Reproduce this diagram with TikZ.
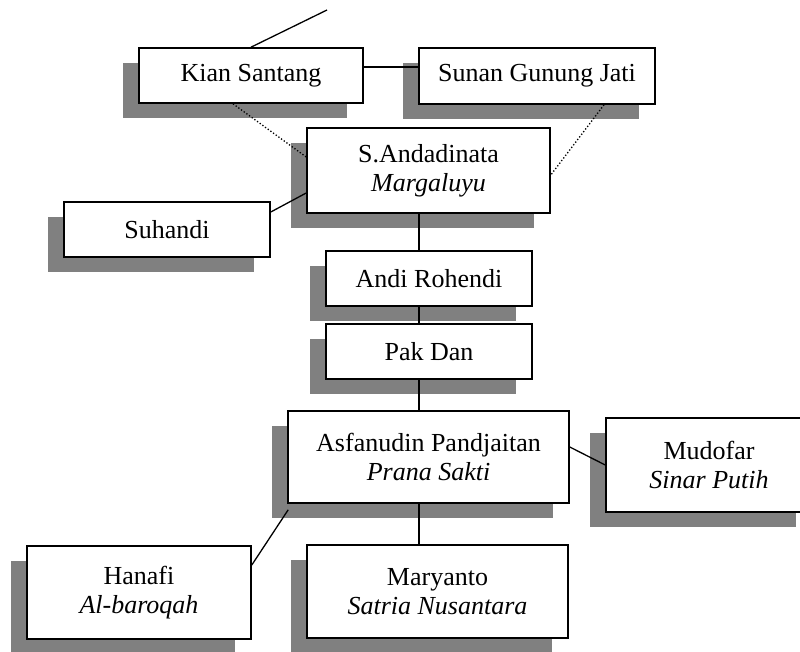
\documentclass[tikz,border=0pt]{standalone}
\usepackage{fontspec}
\setmainfont{Liberation Serif}
\usetikzlibrary{shadows}
\definecolor{shadowgray}{HTML}{808080}
\tikzset{
  famebox/.style={draw=black, line width=1.6pt, fill=white, align=center,
    inner sep=0pt, font=\fontsize{26}{29}\selectfont,
    drop shadow={shadow xshift=-16pt, shadow yshift=-15pt, fill=shadowgray, opacity=1, draw=none}},
  link/.style={draw=black, line width=1.3pt},
  dotlink/.style={draw=black, line width=1.3pt, dotted}
}
\begin{document}
\begin{tikzpicture}[x=1pt,y=-1pt]
\useasboundingbox (0,0) rectangle (800,652);
\clip (0,0) rectangle (800,652);
\node[famebox, minimum width=224pt, minimum height=55pt] (kian) at (251,75.5) {Kian Santang};
\node[famebox, minimum width=236pt, minimum height=56pt] (sunan) at (537,76) {Sunan Gunung Jati};
\node[famebox, minimum width=243pt, minimum height=85pt] (anda) at (428.5,170.5) {S.Andadinata\\\textit{Margaluyu}};
\node[famebox, minimum width=206pt, minimum height=55pt] (suhandi) at (167,229.5) {Suhandi};
\node[famebox, minimum width=206pt, minimum height=55pt] (andi) at (429,278.5) {Andi Rohendi};
\node[famebox, minimum width=206pt, minimum height=55pt] (pakdan) at (429,351.5) {Pak Dan};
\node[famebox, minimum width=281pt, minimum height=92pt] (asf) at (428.5,457) {Asfanudin Pandjaitan\\\textit{Prana Sakti}};
\node[famebox, minimum width=206pt, minimum height=94pt] (mudofar) at (709,465) {Mudofar\\\textit{Sinar Putih}};
\node[famebox, minimum width=224pt, minimum height=93pt] (hanafi) at (139,592.5) {Hanafi\\\textit{Al-baroqah}};
\node[famebox, minimum width=261pt, minimum height=93pt] (maryanto) at (437.5,591.5) {Maryanto\\\textit{Satria Nusantara}};
\coordinate (topend) at (327,10);
\coordinate (vx) at (419,0);
\coordinate (hy) at (0,67);
\draw[link] (kian.north) -- (topend);
\draw[link] (kian.east |- hy) -- (sunan.west |- hy);
\draw[dotlink] ([xshift=-18pt]kian.south) -- ([yshift=13.5pt]anda.west);
\draw[dotlink] ([xshift=67pt]sunan.south) -- ([yshift=-4.5pt]anda.east);
\draw[link] ([yshift=17.5pt]suhandi.east) -- ([yshift=-22.5pt]anda.west);
\draw[link] (anda.south -| vx) -- (andi.north -| vx);
\draw[link] (andi.south -| vx) -- (pakdan.north -| vx);
\draw[link] (pakdan.south -| vx) -- (asf.north -| vx);
\draw[link] (asf.south -| vx) -- (maryanto.north -| vx);
\draw[link] ([yshift=10pt]asf.east) -- (mudofar.west);
\draw[link] ([yshift=27.5pt]hanafi.east) -- ([xshift=1pt,yshift=-6pt]asf.south west);
\end{tikzpicture}
\end{document}
